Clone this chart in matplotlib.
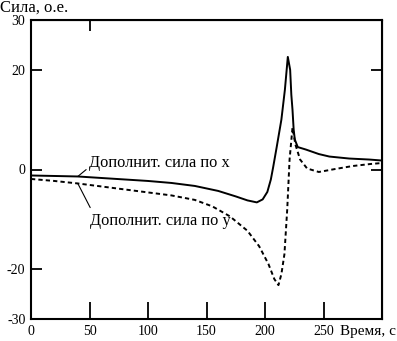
import matplotlib.pyplot as plt
import numpy as np

plt.rcParams['font.family'] = ['Liberation Serif', 'DejaVu Serif']
plt.rcParams['axes.unicode_minus'] = False

# solid curve: additional force along x
t_x = [0, 20, 40, 60, 80, 100, 120, 140, 160, 175, 185, 193, 198, 202, 205,
       207, 210, 214, 217, 219.5, 221.5, 222.5, 223.5, 224.5, 225.5, 228, 235,
       246, 255, 272, 289, 300]
f_x = [-1.2, -1.3, -1.4, -1.7, -2.0, -2.3, -2.7, -3.3, -4.3, -5.4, -6.2, -6.6,
       -6.0, -4.5, -2.0, 0.5, 4.5, 10.0, 16.0, 22.6, 20.0, 15.0, 12.0, 8.0, 6.0,
       4.5, 4.0, 3.1, 2.6, 2.2, 2.0, 1.8]

# dashed curve: additional force along y
t_y = [0, 20, 40, 60, 80, 100, 120, 140, 155, 170, 185, 195, 203, 208, 211.5,
       214, 216.6, 219, 221, 223.5, 226, 230, 236, 246, 260, 275, 290, 300]
f_y = [-1.9, -2.3, -2.8, -3.4, -4.0, -4.6, -5.2, -6.1, -7.4, -9.4, -12.3,
       -15.4, -19.0, -22.0, -23.2, -21.0, -17.0, -8.0, 2.0, 8.4, 5.0, 2.0, 0.2,
       -0.5, 0.1, 0.7, 1.1, 1.3]

x_ticks = [0, 50, 100, 150, 200, 250]
y_ticks = [-30, -20, 0, 20, 30]

fig = plt.figure(figsize=(3.97, 3.41), dpi=100)
ax = fig.add_axes([31 / 397, 22 / 341, 351 / 397, 299 / 341])

ax.plot(t_x, f_x, color='black', lw=1.4)
ax.plot(t_y, f_y, color='black', lw=1.4, ls=(0, (2.2, 1.6)))

ax.set_xlim(0, 300)
ax.set_ylim(-30, 30)
for s in ax.spines.values():
    s.set_linewidth(1.5)

ax.set_xticks(x_ticks)
ax.set_yticks(y_ticks)
ax.tick_params(axis='x', direction='in', length=12, width=1.3, pad=4, labelsize=10)
ax.tick_params(axis='y', direction='in', length=8, width=1.3, pad=4, labelsize=10)

top = ax.secondary_xaxis('top')
top.set_xticks([50])
top.tick_params(direction='in', length=8, width=1.3, labeltop=False)
right = ax.secondary_yaxis('right')
right.set_yticks([0, 20])
right.tick_params(direction='in', length=8, width=1.3, labelright=False)

ax.annotate('Дополнит. сила по x', xy=(40, -1.4), xytext=(49.5, 1.4),
            fontsize=11.8, ha='left', va='center',
            arrowprops=dict(arrowstyle='-', color='black', lw=0.8,
                            shrinkA=0, shrinkB=0, relpos=(0, 0.2)))
ax.annotate('Дополнит. сила по y', xy=(40, -2.8), xytext=(50.5, -10.3),
            fontsize=11.8, ha='left', va='center',
            arrowprops=dict(arrowstyle='-', color='black', lw=0.8,
                            shrinkA=2, shrinkB=0, relpos=(0.02, 1.0)))

fig.text(0, 333 / 341, 'Сила, о.е.', fontsize=12, ha='left', va='center')
fig.text(396 / 397, 10 / 341, 'Время, с', fontsize=11, ha='right', va='center')

fig.savefig('out.png', dpi=100)
